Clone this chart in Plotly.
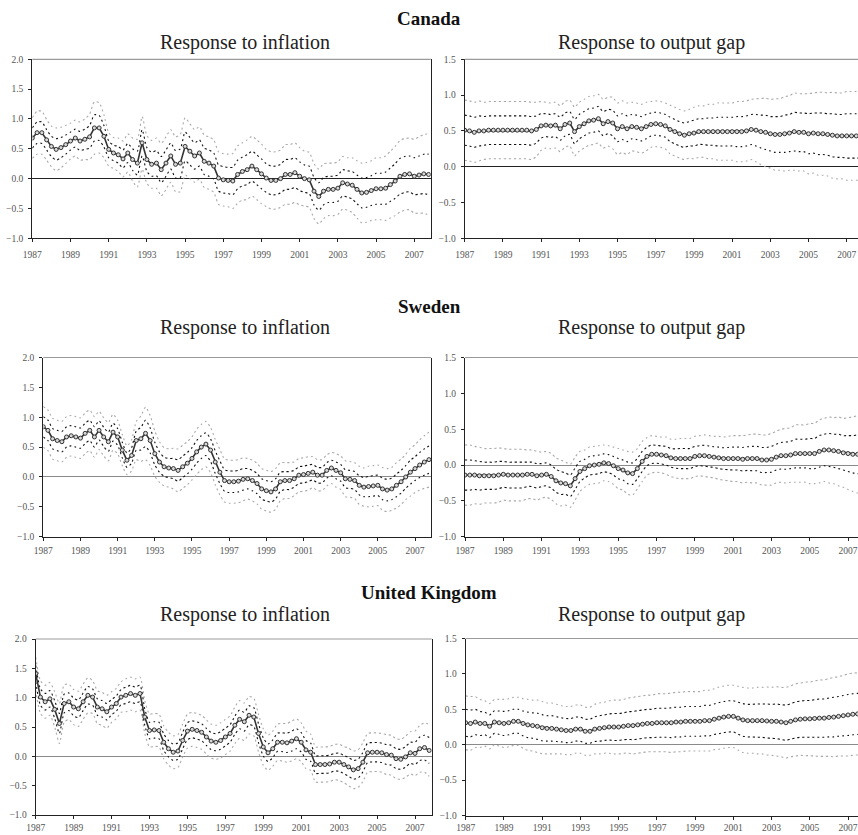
import numpy as np
import plotly.graph_objects as go

# ---------------- data (quarterly, 1987Q1 .. 2007Q4) ----------------
QUARTERS = [1987 + i / 4 for i in range(84)]

COUNTRIES = ["Canada", "Sweden", "United Kingdom"]
PANEL_TITLES = ["Response to inflation", "Response to output gap"]
X_TICK_YEARS = [1987, 1989, 1991, 1993, 1995, 1997, 1999, 2001, 2003, 2005, 2007]

CAN_INF = [0.68, 0.77, 0.77, 0.65, 0.54, 0.49, 0.52, 0.57, 0.63, 0.68, 0.63, 0.66,
           0.70, 0.85, 0.85, 0.71, 0.49, 0.43, 0.40, 0.33, 0.43, 0.32, 0.26, 0.60,
           0.32, 0.24, 0.26, 0.15, 0.26, 0.38, 0.24, 0.26, 0.54, 0.46, 0.38, 0.43,
           0.29, 0.26, 0.21, 0.01, -0.02, -0.03, -0.04, 0.07, 0.12, 0.15, 0.21, 0.15,
           0.08, 0.01, -0.03, -0.03, 0.00, 0.07, 0.07, 0.10, 0.04, 0.00, -0.02, -0.21,
           -0.30, -0.21, -0.18, -0.18, -0.16, -0.07, -0.09, -0.11, -0.18, -0.24, -0.23, -0.20,
           -0.17, -0.17, -0.16, -0.10, -0.04, 0.04, 0.07, 0.08, 0.04, 0.06, 0.08, 0.07]
CAN_INF_SE = [0.17, 0.18, 0.18, 0.17, 0.17, 0.18, 0.17, 0.16, 0.15, 0.15, 0.16, 0.17,
              0.19, 0.22, 0.21, 0.18, 0.14, 0.13, 0.14, 0.15, 0.16, 0.18, 0.20, 0.22,
              0.20, 0.20, 0.21, 0.22, 0.22, 0.22, 0.23, 0.24, 0.24, 0.23, 0.22, 0.22,
              0.22, 0.22, 0.22, 0.22, 0.22, 0.22, 0.23, 0.24, 0.24, 0.25, 0.25, 0.25,
              0.25, 0.24, 0.24, 0.24, 0.24, 0.25, 0.25, 0.25, 0.24, 0.23, 0.23, 0.23,
              0.23, 0.23, 0.22, 0.22, 0.22, 0.22, 0.22, 0.23, 0.24, 0.25, 0.25, 0.25,
              0.26, 0.26, 0.27, 0.28, 0.29, 0.30, 0.30, 0.30, 0.31, 0.32, 0.33, 0.34]
CAN_GAP = [0.51, 0.50, 0.48, 0.50, 0.50, 0.51, 0.51, 0.51, 0.51, 0.51, 0.51, 0.51,
           0.51, 0.51, 0.50, 0.52, 0.57, 0.58, 0.57, 0.58, 0.53, 0.59, 0.61, 0.49,
           0.56, 0.60, 0.64, 0.65, 0.67, 0.60, 0.63, 0.61, 0.53, 0.56, 0.53, 0.56,
           0.55, 0.53, 0.56, 0.59, 0.60, 0.59, 0.57, 0.52, 0.49, 0.46, 0.44, 0.46,
           0.47, 0.49, 0.49, 0.49, 0.49, 0.49, 0.49, 0.49, 0.49, 0.49, 0.49, 0.50,
           0.52, 0.51, 0.49, 0.48, 0.46, 0.45, 0.45, 0.46, 0.47, 0.49, 0.48, 0.48,
           0.46, 0.47, 0.46, 0.46, 0.45, 0.44, 0.43, 0.43, 0.43, 0.43, 0.43, 0.43]
CAN_GAP_SE = [0.21, 0.21, 0.21, 0.21, 0.20, 0.20, 0.20, 0.20, 0.20, 0.20, 0.20, 0.20,
              0.20, 0.20, 0.20, 0.19, 0.17, 0.16, 0.16, 0.16, 0.16, 0.16, 0.16, 0.17,
              0.17, 0.17, 0.17, 0.17, 0.17, 0.17, 0.17, 0.18, 0.18, 0.18, 0.18, 0.17,
              0.17, 0.17, 0.17, 0.16, 0.16, 0.16, 0.16, 0.17, 0.17, 0.17, 0.17, 0.17,
              0.18, 0.18, 0.18, 0.19, 0.19, 0.20, 0.20, 0.20, 0.20, 0.21, 0.21, 0.21,
              0.21, 0.22, 0.23, 0.24, 0.24, 0.25, 0.25, 0.26, 0.26, 0.27, 0.27, 0.27,
              0.28, 0.28, 0.29, 0.29, 0.29, 0.30, 0.30, 0.30, 0.31, 0.31, 0.31, 0.31]

SWE_INF = [0.84, 0.78, 0.64, 0.61, 0.59, 0.67, 0.69, 0.67, 0.65, 0.73, 0.78, 0.67,
           0.78, 0.67, 0.59, 0.75, 0.67, 0.45, 0.28, 0.36, 0.61, 0.64, 0.73, 0.61,
           0.39, 0.25, 0.17, 0.15, 0.14, 0.11, 0.17, 0.23, 0.31, 0.42, 0.50, 0.55,
           0.45, 0.25, 0.08, -0.06, -0.08, -0.08, -0.07, -0.04, -0.03, -0.06, -0.11, -0.20,
           -0.23, -0.25, -0.20, -0.08, -0.06, -0.06, -0.03, 0.03, 0.04, 0.06, 0.08, 0.03,
           0.03, 0.11, 0.15, 0.11, 0.07, -0.03, -0.04, -0.06, -0.14, -0.17, -0.16, -0.15,
           -0.14, -0.20, -0.22, -0.20, -0.14, -0.08, 0.00, 0.08, 0.14, 0.20, 0.25, 0.29]
SWE_INF_SE = [0.17, 0.17, 0.17, 0.17, 0.17, 0.17, 0.17, 0.17, 0.17, 0.17, 0.17, 0.17,
              0.16, 0.16, 0.16, 0.15, 0.14, 0.13, 0.12, 0.13, 0.16, 0.19, 0.22, 0.21,
              0.19, 0.17, 0.16, 0.16, 0.17, 0.18, 0.18, 0.18, 0.18, 0.19, 0.19, 0.19,
              0.19, 0.19, 0.19, 0.18, 0.18, 0.18, 0.18, 0.18, 0.17, 0.17, 0.17, 0.17,
              0.17, 0.17, 0.17, 0.16, 0.15, 0.15, 0.14, 0.14, 0.14, 0.14, 0.13, 0.13,
              0.13, 0.13, 0.13, 0.14, 0.14, 0.15, 0.15, 0.15, 0.16, 0.16, 0.17, 0.17,
              0.17, 0.18, 0.18, 0.18, 0.19, 0.19, 0.19, 0.20, 0.20, 0.21, 0.22, 0.23]
SWE_GAP = [-0.14, -0.14, -0.14, -0.15, -0.15, -0.15, -0.15, -0.14, -0.13, -0.14, -0.14, -0.14,
           -0.14, -0.13, -0.13, -0.15, -0.14, -0.13, -0.16, -0.22, -0.25, -0.26, -0.29, -0.19,
           -0.09, -0.05, -0.01, 0.00, 0.01, 0.03, 0.02, -0.01, -0.05, -0.07, -0.11, -0.12,
           -0.05, 0.05, 0.12, 0.15, 0.15, 0.14, 0.13, 0.10, 0.09, 0.09, 0.09, 0.09,
           0.12, 0.13, 0.13, 0.12, 0.11, 0.10, 0.09, 0.09, 0.09, 0.09, 0.08, 0.09,
           0.09, 0.09, 0.07, 0.07, 0.08, 0.11, 0.13, 0.13, 0.14, 0.16, 0.16, 0.16,
           0.16, 0.16, 0.19, 0.21, 0.21, 0.20, 0.19, 0.17, 0.16, 0.15, 0.15, 0.15]
SWE_GAP_SE = [0.21, 0.21, 0.20, 0.20, 0.19, 0.19, 0.19, 0.19, 0.18, 0.18, 0.18, 0.18,
              0.18, 0.17, 0.17, 0.17, 0.16, 0.16, 0.16, 0.16, 0.16, 0.15, 0.15, 0.15,
              0.14, 0.13, 0.13, 0.13, 0.13, 0.125, 0.125, 0.13, 0.14, 0.14, 0.15, 0.15,
              0.14, 0.14, 0.13, 0.13, 0.125, 0.125, 0.13, 0.13, 0.135, 0.14, 0.14, 0.14,
              0.14, 0.14, 0.145, 0.145, 0.145, 0.15, 0.15, 0.155, 0.16, 0.16, 0.165, 0.165,
              0.17, 0.17, 0.175, 0.175, 0.18, 0.18, 0.185, 0.19, 0.19, 0.20, 0.20, 0.20,
              0.21, 0.21, 0.22, 0.22, 0.23, 0.23, 0.24, 0.24, 0.25, 0.26, 0.27, 0.27]

UK_INF = [1.41, 1.01, 0.93, 0.98, 0.80, 0.56, 0.90, 0.93, 0.84, 0.81, 0.93, 1.04,
          1.01, 0.84, 0.81, 0.76, 0.84, 0.90, 1.01, 1.04, 1.07, 1.04, 1.07, 0.67,
          0.44, 0.45, 0.44, 0.24, 0.13, 0.07, 0.09, 0.27, 0.43, 0.46, 0.44, 0.41,
          0.33, 0.26, 0.24, 0.27, 0.33, 0.39, 0.53, 0.63, 0.59, 0.70, 0.67, 0.39,
          0.16, 0.06, 0.13, 0.24, 0.24, 0.23, 0.26, 0.30, 0.24, 0.11, 0.07, -0.14,
          -0.14, -0.14, -0.13, -0.10, -0.10, -0.14, -0.18, -0.23, -0.21, -0.10, 0.06, 0.07,
          0.07, 0.06, 0.03, 0.02, -0.04, -0.05, -0.01, 0.06, 0.05, 0.13, 0.15, 0.10]
UK_INF_SE = [0.14, 0.14, 0.14, 0.14, 0.15, 0.17, 0.16, 0.15, 0.15, 0.15, 0.15, 0.15,
             0.14, 0.14, 0.14, 0.14, 0.13, 0.13, 0.13, 0.14, 0.14, 0.14, 0.14, 0.14,
             0.14, 0.14, 0.14, 0.14, 0.14, 0.14, 0.14, 0.14, 0.145, 0.145, 0.145, 0.145,
             0.145, 0.145, 0.145, 0.15, 0.15, 0.15, 0.155, 0.16, 0.16, 0.16, 0.16, 0.16,
             0.155, 0.15, 0.15, 0.155, 0.16, 0.165, 0.17, 0.17, 0.165, 0.16, 0.155, 0.15,
             0.15, 0.15, 0.15, 0.15, 0.155, 0.155, 0.16, 0.16, 0.16, 0.165, 0.165, 0.165,
             0.165, 0.165, 0.17, 0.17, 0.17, 0.17, 0.175, 0.18, 0.19, 0.20, 0.21, 0.22]
UK_GAP = [0.31, 0.30, 0.32, 0.30, 0.30, 0.26, 0.32, 0.31, 0.30, 0.31, 0.33, 0.33,
          0.30, 0.28, 0.27, 0.26, 0.24, 0.23, 0.23, 0.22, 0.21, 0.20, 0.20, 0.22,
          0.22, 0.19, 0.19, 0.22, 0.23, 0.24, 0.25, 0.25, 0.25, 0.26, 0.27, 0.27,
          0.28, 0.29, 0.30, 0.30, 0.31, 0.31, 0.31, 0.31, 0.32, 0.32, 0.33, 0.33,
          0.33, 0.33, 0.34, 0.34, 0.36, 0.375, 0.39, 0.40, 0.40, 0.375, 0.35, 0.34,
          0.34, 0.34, 0.34, 0.335, 0.33, 0.33, 0.32, 0.31, 0.33, 0.35, 0.36, 0.365,
          0.365, 0.37, 0.375, 0.375, 0.385, 0.39, 0.40, 0.41, 0.42, 0.43, 0.435, 0.435]
UK_GAP_SE = [0.19, 0.19, 0.18, 0.17, 0.16, 0.16, 0.16, 0.165, 0.17, 0.17, 0.17, 0.17,
             0.175, 0.18, 0.18, 0.185, 0.185, 0.18, 0.18, 0.175, 0.17, 0.17, 0.17, 0.17,
             0.17, 0.17, 0.17, 0.175, 0.18, 0.18, 0.185, 0.19, 0.19, 0.19, 0.195, 0.20,
             0.20, 0.20, 0.20, 0.20, 0.205, 0.205, 0.205, 0.21, 0.21, 0.21, 0.21, 0.21,
             0.21, 0.21, 0.215, 0.215, 0.215, 0.22, 0.22, 0.22, 0.22, 0.225, 0.23, 0.23,
             0.23, 0.235, 0.235, 0.24, 0.24, 0.245, 0.245, 0.25, 0.25, 0.255, 0.255, 0.26,
             0.26, 0.265, 0.27, 0.27, 0.275, 0.28, 0.28, 0.285, 0.29, 0.29, 0.29, 0.29]

# ---------------- layout helpers ----------------
W, H = 858, 835
SERIF = "Liberation Serif, DejaVu Serif, serif"


def fx(p):
    return p / W


def fy(p):
    return 1 - p / H


# (center, se, x-domain px, y-domain px (top,bottom), x range end, y range, zero colour, label standoff)
panels = [
    (CAN_INF, CAN_INF_SE, (32.3, 430.7), (59.3, 238.3), 2007.86, [-1, 2], "#222", 4),
    (CAN_GAP, CAN_GAP_SE, (464.7, 858.0), (59.3, 238.3), 2007.59, [-1, 1.5], "#222", 4),
    (SWE_INF, SWE_INF_SE, (43.3, 431.0), (357.5, 536.7), 2007.86, [-1, 2], "#8a8a8a", 2),
    (SWE_GAP, SWE_GAP_SE, (465.0, 858.0), (357.5, 536.7), 2007.52, [-1, 1.5], "#8a8a8a", 2),
    (UK_INF, UK_INF_SE, (35.7, 431.7), (639.0, 815.0), 2007.88, [-1, 2], "#8a8a8a", 0),
    (UK_GAP, UK_GAP_SE, (465.7, 858.0), (638.5, 815.5), 2007.52, [-1, 1.5], "#8a8a8a", 0),
]

fig = go.Figure()
layout = dict(
    width=W, height=H, margin=dict(l=0, r=0, t=0, b=0, pad=0, autoexpand=False),
    paper_bgcolor="white", plot_bgcolor="white", showlegend=False,
    font=dict(family=SERIF, color="#333"),
)
shapes = []

x = np.array(QUARTERS)
for i, (c, se, xd, yd, xend, yr, zc, so) in enumerate(panels):
    n = i + 1
    xa = "x" if n == 1 else f"x{n}"
    ya = "y" if n == 1 else f"y{n}"
    c = np.array(c)
    se = np.array(se)
    for k, col in ((2, "#a9a9a9"), (1, "#111")):
        for sgn in (1, -1):
            fig.add_trace(go.Scatter(
                x=x, y=c + sgn * k * se, xaxis=xa, yaxis=ya, mode="lines",
                line=dict(color=col, width=1.1, dash="2px,3px", shape="spline", smoothing=0.6),
                hoverinfo="skip"))
    fig.add_trace(go.Scatter(
        x=x, y=c, xaxis=xa, yaxis=ya, mode="lines+markers",
        line=dict(color="#333", width=1.6),
        marker=dict(symbol="circle", size=4, color="#d8d8d8",
                    line=dict(color="#333", width=1))))

    left_panel = (i % 2 == 0)
    layout[f"xaxis{n}"] = dict(
        domain=[fx(xd[0]), min(1.0, fx(xd[1]))], anchor=ya, range=[1987, xend],
        tickmode="array", tickvals=X_TICK_YEARS, ticktext=[str(t) for t in X_TICK_YEARS],
        ticks="outside", ticklen=3, tickwidth=1, tickcolor="#222", automargin=False,
        showline=True, linecolor="#222", linewidth=1.2, showgrid=False, zeroline=False,
        tickfont=dict(family=SERIF, size=9.5, color="#555"), ticklabelstandoff=so,
    )
    layout[f"yaxis{n}"] = dict(
        domain=[fy(yd[1]), fy(yd[0])], anchor=xa, range=yr, dtick=0.5, tick0=-1,
        tickformat=".1f", ticks="outside", ticklen=3, tickwidth=1, tickcolor="#222",
        showline=True, linecolor="#222", linewidth=1.2, mirror=left_panel, automargin=False,
        showgrid=False, zeroline=True, zerolinecolor=zc, zerolinewidth=1.2,
        tickfont=dict(family=SERIF, size=9.5, color="#555"), ticklabelstandoff=3,
    )
    shapes.append(dict(type="line", xref=f"{xa} domain", yref=f"{ya} domain",
                       x0=0, x1=1, y0=1, y1=1, line=dict(color="#9a9a9a", width=1.2)))

annotations = []
country_y = [18, 306, 592]
sub_y = [42, 328, 614]
for r in range(3):
    annotations.append(dict(text=f"<b>{COUNTRIES[r]}</b>", x=fx(429), y=fy(country_y[r]),
                             xref="paper", yref="paper", showarrow=False,
                             xanchor="center", yanchor="middle",
                             font=dict(family=SERIF, size=19, color="#111")))
    for j, cx in enumerate((245, 651)):
        annotations.append(dict(text=PANEL_TITLES[j], x=fx(cx), y=fy(sub_y[r]),
                                xref="paper", yref="paper", showarrow=False,
                                xanchor="center", yanchor="middle",
                                font=dict(family=SERIF, size=20, color="#222")))

layout["shapes"] = shapes
layout["annotations"] = annotations
fig.update_layout(**layout)
fig.write_html(
    "out.html",
    config={"displayModeBar": False},
    post_script="document.body.style.margin='0';document.body.style.overflow='hidden';",
)
